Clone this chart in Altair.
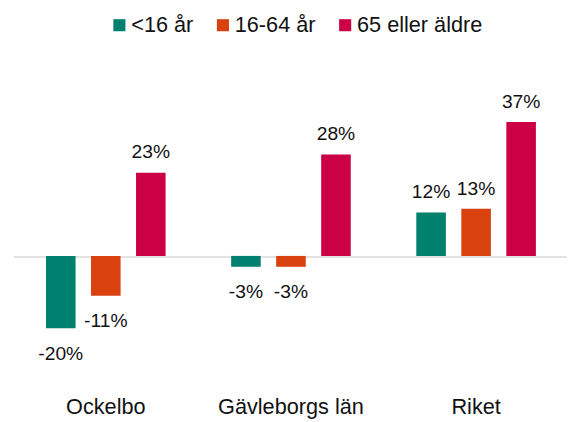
import altair as alt
import pandas as pd

categories = ["Ockelbo", "Gävleborgs län", "Riket"]
series = ["<16 år", "16-64 år", "65 eller äldre"]
under16 = [-20, -3, 12]
age16_64 = [-11, -3, 13]
age65plus = [23, 28, 37]
colors = ["#00806E", "#D9410F", "#CC0044"]

rows = []
for s, vals in zip(series, [under16, age16_64, age65plus]):
    for c, v in zip(categories, vals):
        rows.append({"kategori": c, "grupp": s, "value": v})
df = pd.DataFrame(rows)

FONT = "Liberation Sans"

base = alt.Chart(df).transform_calculate(
    label="datum.value + '%'"
).encode(
    x=alt.X("kategori:N", sort=categories,
            scale=alt.Scale(paddingInner=0, paddingOuter=0, range=[-0.7, 562.7]),
            axis=alt.Axis(title=None, labelAngle=0, ticks=False, tickSize=0, domain=False,
                          labelFontSize=22, labelFont=FONT, labelColor="#111111",
                          labelPadding=33, labelBaseline="alphabetic")),
    xOffset=alt.XOffset("grupp:N", sort=series,
                        scale=alt.Scale(paddingInner=0.343, paddingOuter=0.728)),
    y=alt.Y("value:Q", scale=alt.Scale(domain=[-34.44, 67.66], nice=False, zero=False),
            axis=alt.Axis(values=[0], grid=True, gridColor="#d9d9d9", gridWidth=1.5,
                          labels=False, ticks=False, domain=False, title=None)),
)

bars = base.mark_bar().encode(
    color=alt.Color("grupp:N", sort=series,
                    scale=alt.Scale(domain=series, range=colors),
                    legend=alt.Legend(orient="none", legendX=96, legendY=3.5,
                                      direction="horizontal", title=None,
                                      symbolType="square", symbolSize=150,
                                      symbolStrokeWidth=0, labelFontSize=22,
                                      labelFont=FONT, labelColor="#111111",
                                      labelOffset=1, columnPadding=19, padding=0))
)

text_pos = base.transform_filter("datum.value >= 0").mark_text(
    baseline="alphabetic", dy=-14.5, fontSize=19.5, font=FONT, color="#111111"
).encode(text="label:N")

text_neg = base.transform_filter("datum.value < 0").mark_text(
    baseline="alphabetic", dy=32, fontSize=19.5, font=FONT, color="#111111"
).encode(text="label:N")

chart = alt.layer(bars, text_pos, text_neg).properties(
    width=561, height=375,
    autosize=alt.AutoSizeParams(type="none"),
    padding={"left": 6, "top": 0, "right": 0, "bottom": 39},
).configure_view(stroke=None)

chart.save("out.html", embed_options={"renderer": "svg", "actions": False})
